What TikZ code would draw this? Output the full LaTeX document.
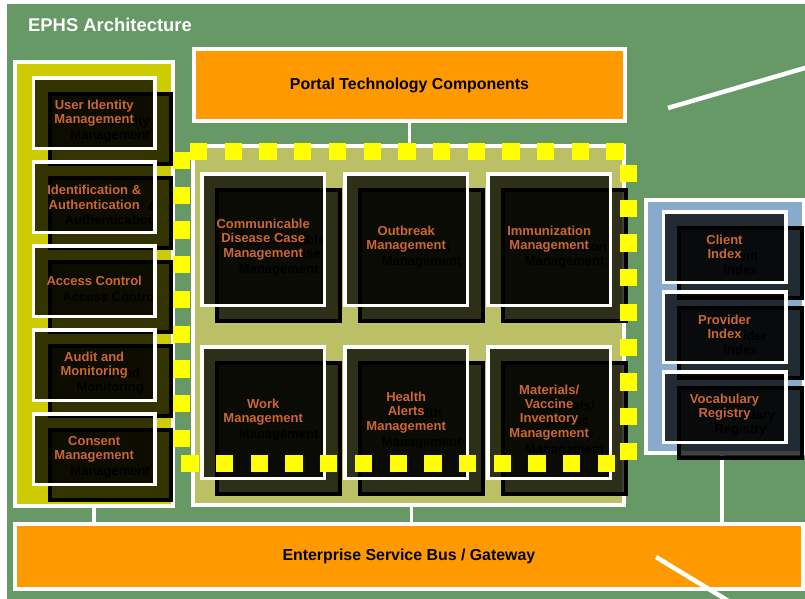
\documentclass[tikz,border=0pt]{standalone}
\usepackage{fontspec}
\setmainfont{Liberation Sans}
\usetikzlibrary{positioning,calc}

\definecolor{bggreen}{HTML}{669966}
\definecolor{secyellow}{HTML}{CCCC00}
\definecolor{hubolive}{HTML}{BBBF66}
\definecolor{idxblue}{HTML}{88AACC}
\definecolor{busorange}{HTML}{FF9900}
\definecolor{lblorange}{HTML}{CC6633}
\definecolor{dashyellow}{HTML}{FFFF00}

\begin{document}
\begin{tikzpicture}[x=1pt,y=-1pt,
  font=\fontsize{13}{14.2}\selectfont\bfseries,
  panel/.style={draw=white,line width=4,inner sep=0},
  mod/.style={draw=white,line width=3.5,fill=black,fill opacity=.75,text opacity=1,
    text=lblorange,align=center,inner sep=1,minimum width=121.5,minimum height=70.5},
  modshadow/.style={draw=black,line width=4,fill=black,fill opacity=.75,text opacity=1,
    text=black,align=center,inner sep=1,minimum width=121,minimum height=70},
  tall/.style={minimum width=122.5,minimum height=131.5},
  wide/.style={minimum width=122.5},
  wire/.style={draw=white,line width=3.5},
  dashline/.style={draw=dashyellow,line width=17,dash pattern=on 17.3 off 17.4}]
\useasboundingbox (0,0) rectangle (805,598);
\fill[white] (0,0) rectangle (805,598);
\fill[bggreen] (7.3,4) rectangle (810,610);

\node[anchor=west,inner sep=0,text=white,font=\fontsize{18.4}{20}\selectfont\bfseries] (title) at (28,25) {EPHS Architecture};

% layers
\node[panel,fill=busorange,minimum width=431,minimum height=72,font=\fontsize{15.9}{18}\selectfont\bfseries] (portal) at (409.5,85) {Portal Technology Components};
\node[panel,fill=busorange,minimum width=788,minimum height=65.3,font=\fontsize{15.9}{18}\selectfont\bfseries] (esb) at (408.9,556.4) {Enterprise Service Bus / Gateway};
\node[panel,fill=secyellow,minimum width=157.7,minimum height=444.3] (leftcol) at (94.2,284.2) {};
\node[panel,fill=hubolive,minimum width=431.3,minimum height=359.3] (hub) at (408.4,325.7) {};
\node[panel,fill=idxblue,minimum width=158,minimum height=253] (rightcol) at (725,326.5) {};

\draw[wire] (portal.south) -- (portal.south |- hub.north);
\draw[wire] (leftcol.south) -- (leftcol.south |- esb.north);
\draw[wire] ([xshift=3pt]hub.south) -- ([xshift=3pt]hub.south |- esb.north);
\draw[wire] ([xshift=-3pt]rightcol.south) -- ([xshift=-3pt]rightcol.south |- esb.north);

% shadow boxes
\node[modshadow] (uim-s) at (110.2,128.8) {User Identity\\Management};
\node[modshadow,below=10pt of uim-s] (ida-s) {Identification \&\\Authentication};
\node[modshadow,below=10pt of ida-s] (acc-s) {Access Control};
\node[modshadow,below=10pt of acc-s] (aud-s) {Audit and\\Monitoring};
\node[modshadow,below=10pt of aud-s] (cons-s) {Consent\\Management};

\node[modshadow,tall] (cdcm-s) at (278.7,255.5) {Communicable\\Disease Case\\Management};
\node[modshadow,tall,right=16.5pt of cdcm-s] (obm-s) {Outbreak\\Management};
\node[modshadow,tall,right=16.5pt of obm-s] (imm-s) {Immunization\\Management};
\node[modshadow,tall,below=37.5pt of cdcm-s] (work-s) {Work\\Management};
\node[modshadow,tall,right=16.5pt of work-s] (hal-s) {Health\\Alerts\\Management};
\node[modshadow,tall,right=16.5pt of hal-s] (mvim-s) {Materials/\\Vaccine\\Inventory\\Management};

\node[modshadow,wide] (cli-s) at (740.5,262.5) {Client\\Index};
\node[modshadow,wide,below=6.2pt of cli-s] (prov-s) {Provider\\Index};
\node[modshadow,wide,below=6.2pt of prov-s] (voc-s) {Vocabulary\\Registry};

% front boxes
\node[mod] (uim) at ([shift={(-16,-15.5)}]uim-s) {User Identity\\Management};
\node[mod] (ida) at ([shift={(-16,-15.5)}]ida-s) {Identification \&\\Authentication};
\node[mod] (acc) at ([shift={(-16,-15.5)}]acc-s) {Access Control};
\node[mod] (aud) at ([shift={(-16,-15.5)}]aud-s) {Audit and\\Monitoring};
\node[mod] (cons) at ([shift={(-16,-15.5)}]cons-s) {Consent\\Management};

\node[mod,tall] (cdcm) at ([shift={(-15.5,-16)}]cdcm-s) {Communicable\\Disease Case\\Management};
\node[mod,tall] (obm) at ([shift={(-15.5,-16)}]obm-s) {Outbreak\\Management};
\node[mod,tall] (imm) at ([shift={(-15.5,-16)}]imm-s) {Immunization\\Management};
\node[mod,tall] (work) at ([shift={(-15.5,-16)}]work-s) {Work\\Management};
\node[mod,tall] (hal) at ([shift={(-15.5,-16)}]hal-s) {Health\\Alerts\\Management};
\node[mod,tall] (mvim) at ([shift={(-15.5,-16)}]mvim-s) {Materials/\\Vaccine\\Inventory\\Management};

\node[mod,wide] (cli) at ([shift={(-16,-15.5)}]cli-s) {Client\\Index};
\node[mod,wide] (prov) at ([shift={(-16,-15.5)}]prov-s) {Provider\\Index};
\node[mod,wide] (voc) at ([shift={(-16,-15.5)}]voc-s) {Vocabulary\\Registry};

% dashed frame round the hub
\draw[dashline] (190,151.5) -- (625,151.5);
\draw[dashline] (628.5,165) -- (628.5,460);
\draw[dashline] (615,463.5) -- (181,463.5);
\draw[dashline] (181.5,152) -- (181.5,447);

% white strokes
\coordinate (s1a) at (668,108);
\coordinate (s1b) at (822,63);
\coordinate (s2a) at (656,557);
\coordinate (s2b) at (745,611);
\draw[white,line width=4.5] (s1a) -- (s1b);
\draw[white,line width=4.5] (s2a) -- (s2b);
\end{tikzpicture}
\end{document}
